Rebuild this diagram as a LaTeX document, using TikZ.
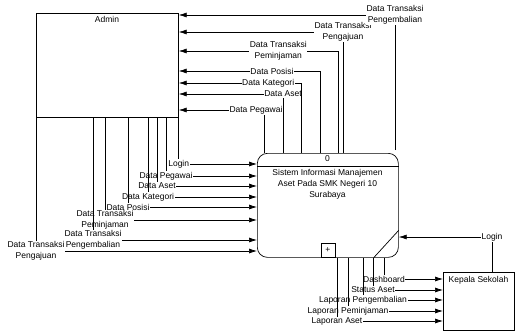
\documentclass[tikz,border=0pt]{standalone}
\usepackage{fontspec}
\setmainfont{Liberation Sans}
\usetikzlibrary{arrows.meta}

\begin{document}
\begin{tikzpicture}[x=1pt, y=-1pt, line width=0.7pt,
    every node/.style={font=\fontsize{8.5}{11}\selectfont},
    entity/.style={draw, rectangle, anchor=north west, inner sep=0pt},
    flow/.style={-{Latex[length=8pt,width=5pt]}},
    lbl/.style={fill=white, inner sep=0.6pt, align=center}]
    \useasboundingbox (0,0) rectangle (515,332);

    % Draw nodes
    \node[entity, minimum width=142pt, minimum height=104pt] (admin) at (36,13) {};
    \node (admintxt) at (107,19) {Admin};
    \node[entity, minimum width=141pt, minimum height=104pt, rounded corners=10pt] (proc) at (257,153) {};
    \node (procid) at (327.5,159) {0};
    \node[align=center] (procname) at (327.5,184.5) {Sistem Informasi Manajemen\\Aset Pada SMK Negeri 10\\Surabaya};
    \draw ([yshift=-13pt]proc.north west) -- ([yshift=-13pt]proc.north east);
    \draw ([yshift=-25pt]proc.east) -- ([xshift=-25pt]proc.south east);
    \node[draw, minimum size=14pt, inner sep=0pt, anchor=south] (plus) at (proc.south) {+};
    \node[entity, minimum width=71pt, minimum height=58pt] (kepala) at (443,272) {};
    \node (kepalatxt) at (478.5,280) {Kepala Sekolah};

    % Draw connections: process to Admin
    \draw[flow] (264,0 |- proc.north) |- (admin.east |- 0,110) node[lbl, pos=0.547] {Data Pegawai};
    \draw[flow] (283,0 |- proc.north) |- (admin.east |- 0,94) node[lbl, pos=0.5] {Data Aset};
    \draw[flow] (301,0 |- proc.north) |- (admin.east |- 0,83) node[lbl, pos=0.634] {Data Kategori};
    \draw[flow] (320,0 |- proc.north) |- (admin.east |- 0,71) node[lbl, pos=0.67] {Data Posisi};
    \draw[flow] (338,0 |- proc.north) |- (admin.east |- 0,51) node[lbl, pos=0.6875] {Data Transaksi\\Peminjaman};
    \draw[flow] (343,0 |- proc.north) |- (admin.east |- 0,32) node[lbl, pos=0.5] {Data Transaksi\\Pengajuan};
    \draw[flow, shorten <=3pt] (395,0 |- proc.north) |- (admin.east |- 0,15) node[lbl, pos=0.5] {Data Transaksi\\Pengembalian};

    % Draw connections: Admin to process
    \draw[flow] (admin.south east) |- (proc.west |- 0,164) node[lbl, pos=0.5] {Login};
    \draw[flow] (166,0 |- admin.south) |- (proc.west |- 0,176) node[lbl, pos=0.5] {Data Pegawai};
    \draw[flow] (157,0 |- admin.south) |- (proc.west |- 0,186) node[lbl, pos=0.5] {Data Aset};
    \draw[flow] (148,0 |- admin.south) |- (proc.west |- 0,197) node[lbl, pos=0.5] {Data Kategori};
    \draw[flow] (128,0 |- admin.south) |- (proc.west |- 0,207) node[lbl, pos=0.5] {Data Posisi};
    \draw[flow] (105,0 |- admin.south) |- (proc.west |- 0,220) node[lbl, pos=0.5] {Data Transaksi\\Peminjaman};
    \draw[flow] (93,0 |- admin.south) |- (proc.west |- 0,240) node[lbl, pos=0.5] {Data Transaksi\\Pengembalian};
    \draw[flow] (admin.south west) |- (proc.west |- 0,251) node[lbl, pos=0.5] {Data Transaksi\\Pengajuan};

    % Draw connections: process and Kepala Sekolah
    \draw[flow] (kepala.north -| 492,0) |- (proc.east |- 0,237) node[lbl, pos=0.5] {Login};
    \draw[flow] (384,0 |- proc.south) |- (kepala.west |- 0,279) node[lbl, pos=0.5] {Dashboard};
    \draw[flow] (373,0 |- proc.south) |- (kepala.west |- 0,290) node[lbl, pos=0.5] {Status Aset};
    \draw[flow] (363,0 |- proc.south) |- (kepala.west |- 0,300) node[lbl, pos=0.5] {Laporan Pengembalian};
    \draw[flow] (348,0 |- proc.south) |- (kepala.west |- 0,311) node[lbl, pos=0.5] {Laporan Peminjaman};
    \draw[flow] (337,0 |- proc.south) |- (kepala.west |- 0,321) node[lbl, pos=0.5] {Laporan Aset};
\end{tikzpicture}
\end{document}
